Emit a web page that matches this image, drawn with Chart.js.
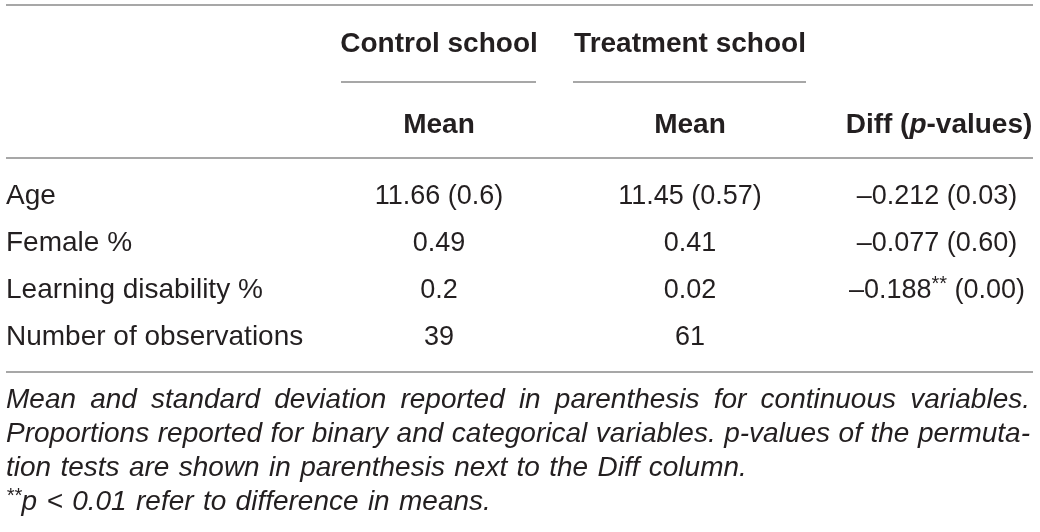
<!DOCTYPE html>
<html><head><meta charset="utf-8">
<script src="https://cdn.jsdelivr.net/npm/chart.js@4.4.1/dist/chart.umd.min.js"></script>
<style>html,body{margin:0;padding:0;background:#fff;}#wrap{width:1040px;height:532px;position:relative;}</style>
</head><body><div id="wrap"><canvas id="c"></canvas></div>
<script>
// ---- data ----
const groupHeaders = ['Control school', 'Treatment school'];
const subHeaders = ['Mean', 'Mean'];
const diffHeader = ['Diff (', 'p', '-values)'];
const rowLabels = ['Age', 'Female %', 'Learning disability %', 'Number of observations'];
const controlMean = [11.66, 0.49, 0.2, 39];
const controlSD = [0.6, null, null, null];
const treatmentMean = [11.45, 0.41, 0.02, 61];
const treatmentSD = [0.57, null, null, null];
const diffValues = [-0.212, -0.077, -0.188, null];
const diffStars = ['', '', '**', ''];
const pValues = [0.03, 0.60, 0.00, null];
const footnoteLines = [
  'Mean and standard deviation reported in parenthesis for continuous variables.',
  'Proportions reported for binary and categorical variables. p-values of the permuta-',
  'tion tests are shown in parenthesis next to the Diff column.',
  'p < 0.01 refer to difference in means.'
];
const footnoteJustify = [true, true, false, false];
const footnoteStars = ['', '', '', '**'];

// ---- layout (positions in scale units) ----
const L = {
  left: 6, right: 1033,
  colLabel: 6, colControl: 439, colTreat: 690, colDiff: 937,
  ruleTop: 5, ruleHead: 158, ruleBottom: 372,
  groupBase: 52, groupRule: 82, groupRuleSpan: [[341, 536], [573, 806]],
  subBase: 133,
  rowBase0: 204, rowStep: 47,
  footBase0: 408, footStep: 34
};
const FONT = '"Liberation Sans", Arial, Helvetica, sans-serif';
const TXT = '#231f20';
const RULE = '#8a8a8a';

function fmtNum(v) { return String(v); }
function fmtMeanSD(m, s) { return s == null ? fmtNum(m) : fmtNum(m) + ' (' + fmtNum(s) + ')'; }

function drawRuns(ctx, runs, x, y, align) {
  let total = 0;
  runs.forEach(r => { ctx.font = r.font; r.w = ctx.measureText(r.t).width; total += r.w; });
  let cx = align === 'center' ? x - total / 2 : (align === 'right' ? x - total : x);
  runs.forEach(r => {
    ctx.font = r.font;
    ctx.textAlign = 'left';
    ctx.fillText(r.t, cx, y + (r.dy || 0));
    cx += r.w;
  });
}

const tablePlugin = {
  id: 'tablePlugin',
  afterDraw(chart) {
    const ctx = chart.ctx;
    const xs = chart.scales.x, ys = chart.scales.y;
    const X = v => xs.getPixelForValue(v), Y = v => ys.getPixelForValue(v);
    ctx.save();
    ctx.fillStyle = TXT;
    ctx.textBaseline = 'alphabetic';

    // rules
    ctx.strokeStyle = RULE; ctx.lineWidth = 1.5;
    [L.ruleTop, L.ruleHead, L.ruleBottom].forEach(yv => {
      ctx.beginPath(); ctx.moveTo(X(L.left), Y(yv)); ctx.lineTo(X(L.right), Y(yv)); ctx.stroke();
    });
    L.groupRuleSpan.forEach(s => {
      ctx.beginPath(); ctx.moveTo(X(s[0]), Y(L.groupRule)); ctx.lineTo(X(s[1]), Y(L.groupRule)); ctx.stroke();
    });

    const bold = 'bold 28px ' + FONT;
    const boldIt = 'italic bold 28px ' + FONT;
    const lab = '28px ' + FONT;
    const val = '27px ' + FONT;
    const sup = '20px ' + FONT;
    const valCols = [L.colControl, L.colTreat];

    groupHeaders.forEach((h, i) => drawRuns(ctx, [{ t: h, font: bold }], X(valCols[i]), Y(L.groupBase), 'center'));
    subHeaders.forEach((h, i) => drawRuns(ctx, [{ t: h, font: bold }], X(valCols[i]), Y(L.subBase), 'center'));
    drawRuns(ctx, [{ t: diffHeader[0], font: bold }, { t: diffHeader[1], font: boldIt }, { t: diffHeader[2], font: bold }],
      X(L.colDiff + 2), Y(L.subBase), 'center');

    rowLabels.forEach((r, i) => {
      const yb = Y(L.rowBase0 + i * L.rowStep);
      drawRuns(ctx, [{ t: r, font: lab }], X(L.colLabel), yb, 'left');
      drawRuns(ctx, [{ t: fmtMeanSD(controlMean[i], controlSD[i]), font: val }], X(L.colControl), yb, 'center');
      drawRuns(ctx, [{ t: fmtMeanSD(treatmentMean[i], treatmentSD[i]), font: val }], X(L.colTreat), yb, 'center');
      if (diffValues[i] != null) {
        const d = (diffValues[i] < 0 ? '\u2013' : '') + Math.abs(diffValues[i]).toFixed(3);
        const runs = [{ t: d, font: val }];
        if (diffStars[i]) runs.push({ t: diffStars[i], font: sup, dy: -8 });
        runs.push({ t: ' (' + pValues[i].toFixed(2) + ')', font: val });
        drawRuns(ctx, runs, X(L.colDiff), yb, 'center');
      }
    });

    // footnotes
    const fn = 'italic 28px ' + FONT;
    const fnSup = 'italic 20px ' + FONT;
    footnoteLines.forEach((line, i) => {
      const yb = Y(L.footBase0 + i * L.footStep);
      let x0 = X(L.left);
      if (footnoteStars[i]) {
        ctx.font = fnSup; ctx.fillText(footnoteStars[i], x0, yb - 8);
        x0 += ctx.measureText(footnoteStars[i]).width;
      }
      ctx.font = fn;
      const words = line.split(' ');
      const ws = words.map(w => ctx.measureText(w).width);
      let gap;
      if (footnoteJustify[i]) {
        const sum = ws.reduce((a, b) => a + b, 0);
        gap = (X(L.right) - 3 - x0 - sum) / (words.length - 1);
      } else {
        gap = ctx.measureText(' ').width * 1.2;
      }
      let cx = x0;
      words.forEach((w, k) => { ctx.fillText(w, cx, yb); cx += ws[k] + gap; });
    });
    ctx.restore();
  }
};

new Chart(document.getElementById('c'), {
  type: 'scatter',
  data: { datasets: [{ data: [], pointRadius: 0 }] },
  options: {
    responsive: true, maintainAspectRatio: false, animation: false,
    devicePixelRatio: 1,
    layout: { padding: 0 },
    plugins: { legend: { display: false }, tooltip: { enabled: false } },
    events: [],
    scales: {
      x: { type: 'linear', min: 0, max: 1040, display: false },
      y: { type: 'linear', min: 0, max: 532, reverse: true, display: false }
    }
  },
  plugins: [tablePlugin]
});
</script></body></html>
